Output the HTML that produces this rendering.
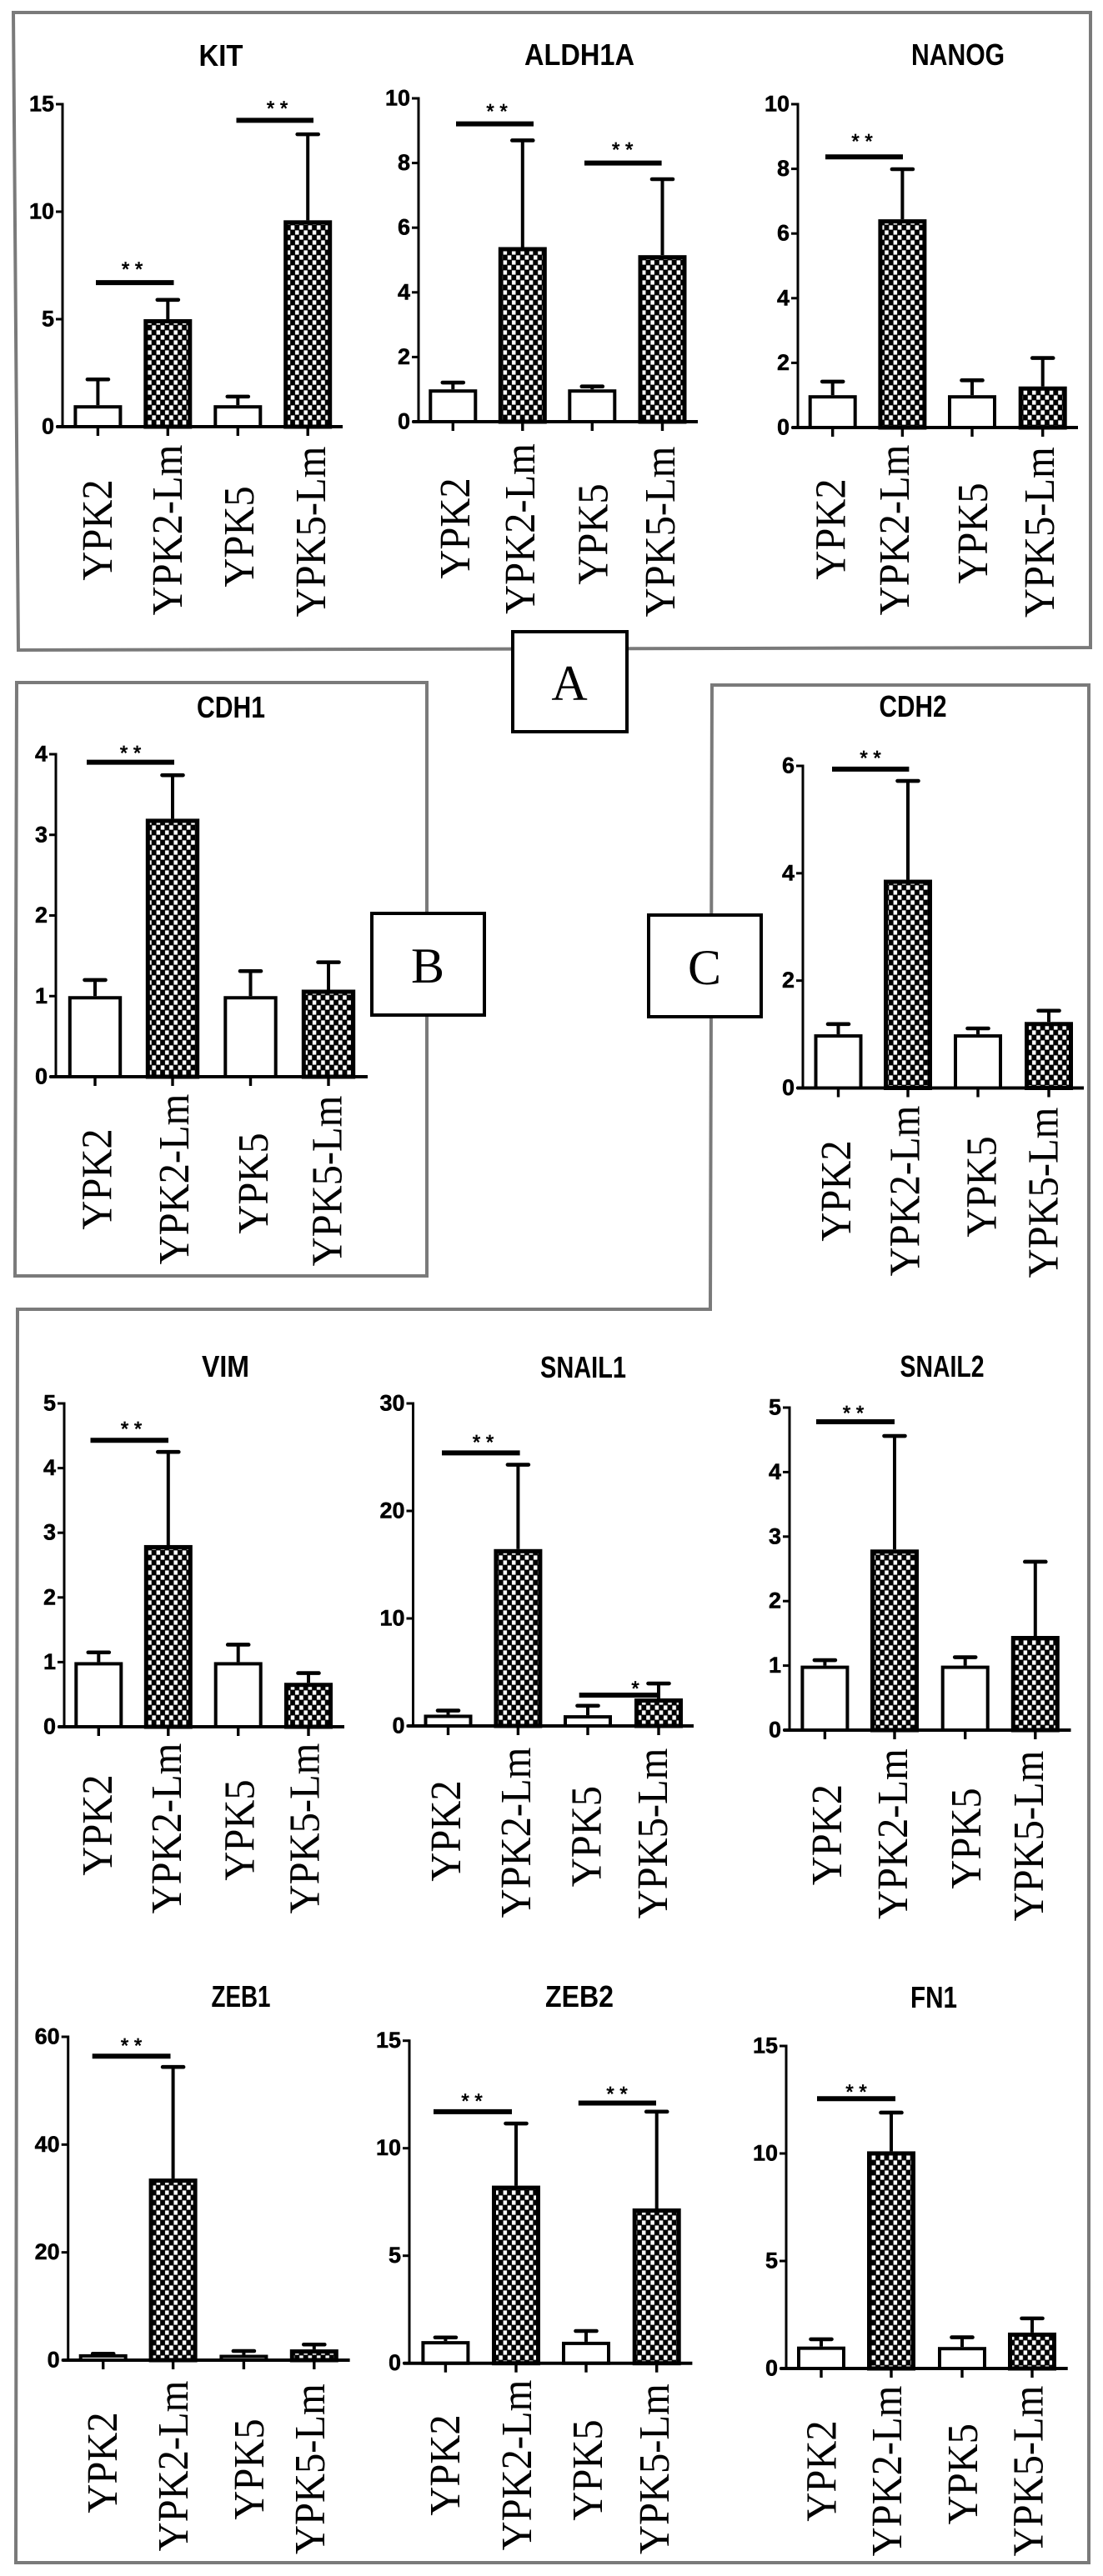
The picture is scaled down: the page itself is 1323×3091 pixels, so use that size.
<!DOCTYPE html>
<html lang="en">
<head>
<meta charset="utf-8">
<title>Gene expression bar charts</title>
<style>
html,body{margin:0;padding:0;background:#fff;}
svg{display:block;}
.title{font-family:"Liberation Sans",sans-serif;font-weight:bold;font-size:36px;fill:#000;text-anchor:middle;}
.panel-letter{font-family:"Liberation Serif",serif;font-size:60px;fill:#000;text-anchor:middle;}
.tick{font-family:"Liberation Sans",sans-serif;font-weight:bold;font-size:27px;fill:#000;stroke:#000;stroke-width:0.5;text-anchor:end;}
.cat{font-family:"Liberation Serif",serif;font-size:48.5px;fill:#000;text-anchor:middle;}
.star{font-family:"Liberation Sans",sans-serif;font-size:24px;fill:#000;stroke:#000;stroke-width:0.7;text-anchor:middle;}
</style>
</head>
<body>
<svg id="figure" xmlns="http://www.w3.org/2000/svg" width="1323" height="3091" viewBox="0 0 1323 3091">
  <defs>
    <pattern id="check" patternUnits="userSpaceOnUse" width="10.4" height="12">
      <rect width="10.4" height="12" fill="#000"/>
      <rect x="0.4" y="0.4" width="4.5" height="5.2" fill="#fff"/>
      <rect x="5.6" y="6.4" width="4.5" height="5.2" fill="#fff"/>
    </pattern>
  </defs>
  <rect width="1323" height="3091" fill="#fff"/>

  <polygon points="16,15 1308,15 1308,777 22,780" fill="none" stroke="#7a7a7a" stroke-width="4"/>
  <polygon points="20,819 512,819 512,1531 18,1531" fill="none" stroke="#7a7a7a" stroke-width="4"/>
  <polygon points="854,822 1306,822 1306,3075 19,3075 21,1571 852,1571" fill="none" stroke="#7a7a7a" stroke-width="4"/>

  <g>
    <rect x="615" y="758" width="137" height="120" fill="#fff" stroke="#000" stroke-width="4"/>
    <text class="panel-letter" x="683" y="840">A</text>
  </g>
  <g>
    <rect x="446" y="1096" width="135" height="122" fill="#fff" stroke="#000" stroke-width="4"/>
    <text class="panel-letter" x="513" y="1179">B</text>
  </g>
  <g>
    <rect x="778" y="1098" width="135" height="122" fill="#fff" stroke="#000" stroke-width="4"/>
    <text class="panel-letter" x="845" y="1181">C</text>
  </g>

  <g id="kit"><text class="title" x="265" y="79" textLength="53" lengthAdjust="spacingAndGlyphs">KIT</text></g>
  <g id="aldh1a"><text class="title" x="695" y="78" textLength="132" lengthAdjust="spacingAndGlyphs">ALDH1A</text></g>
  <g id="nanog"><text class="title" x="1149" y="78" textLength="112" lengthAdjust="spacingAndGlyphs">NANOG</text></g>
  <g id="cdh1"><text class="title" x="277" y="861" textLength="82" lengthAdjust="spacingAndGlyphs">CDH1</text></g>
  <g id="cdh2"><text class="title" x="1095" y="860" textLength="81" lengthAdjust="spacingAndGlyphs">CDH2</text></g>
  <g id="vim"><text class="title" x="270.5" y="1652" textLength="57" lengthAdjust="spacingAndGlyphs">VIM</text></g>
  <g id="snail1"><text class="title" x="699.5" y="1653" textLength="103" lengthAdjust="spacingAndGlyphs">SNAIL1</text></g>
  <g id="snail2"><text class="title" x="1130" y="1652" textLength="101" lengthAdjust="spacingAndGlyphs">SNAIL2</text></g>
  <g id="zeb1"><text class="title" x="289" y="2408" textLength="71" lengthAdjust="spacingAndGlyphs">ZEB1</text></g>
  <g id="zeb2"><text class="title" x="695" y="2408" textLength="82" lengthAdjust="spacingAndGlyphs">ZEB2</text></g>
  <g id="fn1"><text class="title" x="1120" y="2409" textLength="56" lengthAdjust="spacingAndGlyphs">FN1</text></g>
</svg>

<script>
const categories = ['YPK2', 'YPK2-Lm', 'YPK5', 'YPK5-Lm'];

const kitMeans = [1, 5, 1, 9.6];
const kitUpper = [2.2, 5.9, 1.4, 13.6];
const kitTicks = [0, 5, 10, 15];
const kitSignif = [6.7, 14.25];

const aldh1aMeans = [1, 5.4, 1, 5.15];
const aldh1aUpper = [1.21, 8.7, 1.09, 7.5];
const aldh1aTicks = [0, 2, 4, 6, 8, 10];
const aldh1aSignif = [9.21, 8.0];

const nanogMeans = [1, 6.44, 1, 1.27];
const nanogUpper = [1.42, 7.99, 1.46, 2.15];
const nanogTicks = [0, 2, 4, 6, 8, 10];
const nanogSignif = [8.37];

const cdh1Means = [1, 3.2, 1, 1.08];
const cdh1Upper = [1.2, 3.74, 1.31, 1.42];
const cdh1Ticks = [0, 1, 2, 3, 4];
const cdh1Signif = [3.9];

const cdh2Means = [1, 3.88, 1, 1.23];
const cdh2Upper = [1.19, 5.72, 1.11, 1.44];
const cdh2Ticks = [0, 2, 4, 6];
const cdh2Signif = [5.94];

const vimMeans = [1, 2.81, 1, 0.68];
const vimUpper = [1.15, 4.25, 1.27, 0.83];
const vimTicks = [0, 1, 2, 3, 4, 5];
const vimSignif = [4.43];

const snail1Means = [1.05, 16.45, 1, 2.56];
const snail1Upper = [1.43, 24.3, 1.88, 3.95];
const snail1Ticks = [0, 10, 20, 30];
const snail1Signif = [25.4, 2.87];

const snail2Means = [1, 2.8, 1, 1.46];
const snail2Upper = [1.085, 4.56, 1.13, 2.61];
const snail2Ticks = [0, 1, 2, 3, 4, 5];
const snail2Signif = [4.78];

const zeb1Means = [1.1, 33.7, 1, 2];
const zeb1Upper = [1.2, 54.4, 1.7, 2.9];
const zeb1Ticks = [0, 20, 40, 60];
const zeb1Signif = [56.4];

const zeb2Means = [1.03, 8.26, 1, 7.2];
const zeb2Upper = [1.2, 11.15, 1.5, 11.7];
const zeb2Ticks = [0, 5, 10, 15];
const zeb2Signif = [11.7, 12.1];

const fn1Means = [1.02, 10.1, 1, 1.67];
const fn1Upper = [1.36, 11.9, 1.45, 2.33];
const fn1Ticks = [0, 5, 10, 15];
const fn1Signif = [12.55];

const charts = [
  {id:'kit', means:kitMeans, upper:kitUpper, ticks:kitTicks, signif:kitSignif,
   ox:75, y0:512, yTop:125, xEnd:411, catX:[117.4,201.3,285.3,369.2], barW:58,
   labelX:[117,201,287,373], labelY:[636,636,644,638],
   sigLayout:[{x1:115,x2:208.5,sx:158.5,dy:22,mark:'* *'},{x1:283.5,x2:376,sx:332.6,dy:20.5,mark:'* *'}]},
  {id:'aldh1a', means:aldh1aMeans, upper:aldh1aUpper, ticks:aldh1aTicks, signif:aldh1aSignif,
   ox:502, y0:506, yTop:118, xEnd:837, catX:[543.3,626.8,710.3,794.5], barW:58,
   labelX:[546,624,711.5,792], labelY:[634,634.5,641,638],
   sigLayout:[{x1:547,x2:640,sx:596,dy:21,mark:'* *'},{x1:701,x2:793.6,sx:746.7,dy:22,mark:'* *'}]},
  {id:'nanog', means:nanogMeans, upper:nanogUpper, ticks:nanogTicks, signif:nanogSignif,
   ox:957, y0:513, yTop:125, xEnd:1293, catX:[998.7,1082.4,1166,1250.7], barW:58,
   labelX:[996.5,1072.8,1167,1247], labelY:[635,636,640,638.6],
   sigLayout:[{x1:990,x2:1083,sx:1034,dy:24.5,mark:'* *'}]},
  {id:'cdh1', means:cdh1Means, upper:cdh1Upper, ticks:cdh1Ticks, signif:cdh1Signif,
   ox:67, y0:1292, yTop:905, xEnd:441, catX:[114,207,300.5,394], barW:64.4,
   labelX:[116.4,209,304,392.5], labelY:[1415,1415,1420,1417],
   sigLayout:[{x1:104,x2:209,sx:156.6,dy:17,mark:'* *'}]},
  {id:'cdh2', means:cdh2Means, upper:cdh2Upper, ticks:cdh2Ticks, signif:cdh2Signif,
   ox:963, y0:1305.5, yTop:919, xEnd:1300, catX:[1005.5,1089,1173,1258], barW:58,
   labelX:[1003,1085.5,1177.5,1251.5], labelY:[1429,1429,1424,1431],
   sigLayout:[{x1:998,x2:1090.4,sx:1044,dy:19.5,mark:'* *'}]},
  {id:'vim', means:vimMeans, upper:vimUpper, ticks:vimTicks, signif:vimSignif,
   ox:77, y0:2072, yTop:1684, xEnd:413, catX:[118.3,201.8,285.7,370], barW:58,
   labelX:[117,200,287.5,365.5], labelY:[2190,2194,2196,2194],
   sigLayout:[{x1:108.5,x2:202,sx:157.6,dy:19.5,mark:'* *'}]},
  {id:'snail1', means:snail1Means, upper:snail1Upper, ticks:snail1Ticks, signif:snail1Signif,
   ox:495.5, y0:2071, yTop:1684, xEnd:832, catX:[537.5,621.4,705,790], barW:58,
   labelX:[535,619,703.5,783], labelY:[2197,2199,2203.6,2200],
   sigLayout:[{x1:530,x2:623.6,sx:579.5,dy:19,mark:'* *'},{x1:694.7,x2:789,sx:762,dy:14,mark:'*'}]},
  {id:'snail2', means:snail2Means, upper:snail2Upper, ticks:snail2Ticks, signif:snail2Signif,
   ox:947, y0:2076, yTop:1689, xEnd:1284.5, catX:[989.4,1073,1157.7,1241.8], barW:58,
   labelX:[992,1071,1159,1234], labelY:[2201.6,2200.6,2206,2203],
   sigLayout:[{x1:979,x2:1073,sx:1023.6,dy:16.5,mark:'* *'}]},
  {id:'zeb1', means:zeb1Means, upper:zeb1Upper, ticks:zeb1Ticks, signif:zeb1Signif,
   ox:81.7, y0:2832, yTop:2444, xEnd:419.6, catX:[123.7,207.6,292.4,376.8], barW:58,
   labelX:[123,208,299,372], labelY:[2955,2959,2963,2962.6],
   sigLayout:[{x1:110.7,x2:204.5,sx:157.6,dy:19,mark:'* *'}]},
  {id:'zeb2', means:zeb2Means, upper:zeb2Upper, ticks:zeb2Ticks, signif:zeb2Signif,
   ox:491, y0:2835.7, yTop:2448.7, xEnd:830.4, catX:[534.4,619,703,787.7], barW:58,
   labelX:[534,620,705,785], labelY:[2958,2958,2964,2962.6],
   sigLayout:[{x1:520,x2:614,sx:566,dy:19,mark:'* *'},{x1:693.8,x2:787,sx:740,dy:17,mark:'* *'}]},
  {id:'fn1', means:fn1Means, upper:fn1Upper, ticks:fn1Ticks, signif:fn1Signif,
   ox:943, y0:2842, yTop:2455, xEnd:1280.7, catX:[985,1069,1154,1238], barW:58,
   labelX:[985.6,1064,1155,1233.5], labelY:[2965,2965,2968.7,2965],
   sigLayout:[{x1:980,x2:1074,sx:1027,dy:14,mark:'* *'}]}
];

const SVG_NS = 'http://www.w3.org/2000/svg';

function make(parent, tag, props, text) {
  const el = document.createElementNS(SVG_NS, tag);
  for (const key in props) {
    el.setAttribute(key, props[key]);
  }
  if (text !== undefined) {
    el.textContent = text;
  }
  parent.appendChild(el);
  return el;
}

function drawChart(c) {
  const root = document.getElementById(c.id);
  const maxTick = c.ticks[c.ticks.length - 1];
  const yScale = function (v) { return c.y0 - (v / maxTick) * (c.y0 - c.yTop); };

  c.ticks.forEach(function (t) {
    const y = yScale(t);
    const mark = make(root, 'line', {x1: c.ox - 8, x2: c.ox, y1: y, y2: y, stroke: '#000', 'stroke-width': 3});
    
    
    const label = make(root, 'text', {class: 'tick', x: c.ox - 10, y: y + 8.5}, String(t));
    
    
  });

  c.means.forEach(function (m, i) {
    const cx = c.catX[i];
    const top = yScale(c.upper[i]);
    const hatched = i % 2 === 1;

    const stem = make(root, 'line', {x1: cx, x2: cx, y1: yScale(m), y2: top, stroke: '#000', 'stroke-width': 4});
    
    

    const cap = make(root, 'line', {x1: cx - 12.5, x2: cx + 12.5, y1: top, y2: top, stroke: '#000', 'stroke-width': 4.6, 'stroke-linecap': 'round'});
    
    

    const sw = hatched ? 5 : 4;
    const barTop = yScale(m) + sw / 2;
    const bar = make(root, 'rect', {
      x: cx - c.barW / 2 + sw / 2,
      y: barTop,
      width: c.barW - sw,
      height: Math.max(0, c.y0 - barTop),
      fill: hatched ? 'url(#check)' : '#fff',
      stroke: '#000',
      'stroke-width': sw
    });
    
    

    const xTick = make(root, 'line', {x1: cx, x2: cx, y1: c.y0, y2: c.y0 + 11, stroke: '#000', 'stroke-width': 3.4});
    
    

    const lx = c.labelX[i] + 17;
    const ly = c.labelY[i];
    const catLabel = make(root, 'text', {class: 'cat', transform: 'translate(' + lx + ',' + ly + ') rotate(-90) scale(1,1.06)'}, categories[i]);
    
    
  });

  const yAxis = make(root, 'line', {x1: c.ox, x2: c.ox, y1: c.yTop - 1.5, y2: c.y0, stroke: '#000', 'stroke-width': 3});
  
  

  const xAxis = make(root, 'line', {x1: c.ox - 7, x2: c.xEnd, y1: c.y0, y2: c.y0, stroke: '#000', 'stroke-width': 4});
  
  

  c.signif.forEach(function (level, i) {
    const s = c.sigLayout[i];
    const y = yScale(level);
    const sigLine = make(root, 'line', {x1: s.x1, x2: s.x2, y1: y, y2: y, stroke: '#000', 'stroke-width': 6});
    
    
    const star = make(root, 'text', {class: 'star', x: s.sx, y: y - s.dy + 14}, s.mark);
    
    
  });
}

charts.forEach(drawChart);
</script>
</body>
</html>
